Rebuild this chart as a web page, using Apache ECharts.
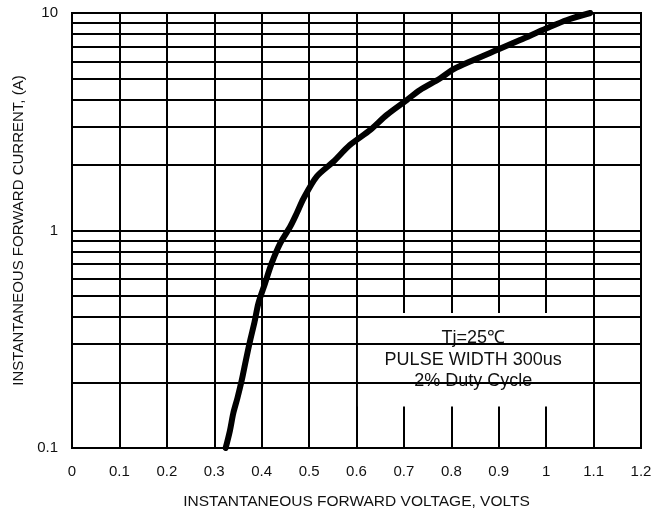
<!DOCTYPE html>
<html>
<head>
<meta charset="utf-8">
<script src="https://cdn.jsdelivr.net/npm/echarts@6/dist/echarts.min.js"></script>
<style>
html,body{margin:0;padding:0;background:#fff;}
#chart{width:669px;height:515px;}
</style>
</head>
<body>
<div id="chart"></div>
<script>
// Forward voltage (V) vs instantaneous forward current (A)
const voltage = [0.324,0.333,0.340,0.349,0.358,0.367,0.376,0.385,0.393,0.407,0.421,0.439,0.460,0.474,0.488,0.516,0.551,0.586,0.629,0.664,0.706,0.734,0.776,0.804,0.847,0.896,0.945,1.001,1.044,1.093];
const current = [0.100,0.120,0.144,0.170,0.205,0.255,0.314,0.380,0.462,0.571,0.706,0.873,1.04,1.20,1.40,1.77,2.07,2.47,2.90,3.40,3.98,4.43,5.00,5.50,6.08,6.76,7.51,8.50,9.29,10.0];
// minor horizontal grid values of the log axis
const minorGrid = [0.2,0.3,0.4,0.5,0.6,0.7,0.8,0.9,2,3,4,5,6,7,8,9];
// annotation box corners in data units [V, A]
const noteBoxTopLeft = [0.603, 0.418];
const noteBoxBottomRight = [1.089, 0.155];
const noteLines = ['Tj=25\u2103', 'PULSE WIDTH 300us', '2% Duty Cycle'];
const xTitle = 'INSTANTANEOUS FORWARD VOLTAGE, VOLTS';
const yTitle = 'INSTANTANEOUS FORWARD CURRENT, (A)';

const FONT = '"Liberation Sans", Arial, sans-serif';
const chart = echarts.init(document.getElementById('chart'), null, {renderer:'canvas'});
const curveData = voltage.map((v,i)=>[v,current[i]]);

chart.setOption({
  animation:false,
  backgroundColor:'#fff',
  grid:{left:72,right:28,top:13,bottom:67,show:true,borderColor:'#000',borderWidth:2,backgroundColor:'transparent'},
  xAxis:{
    type:'value',min:0,max:1.2,interval:0.1,
    name:xTitle,nameLocation:'middle',nameGap:46,
    nameTextStyle:{fontFamily:FONT,fontSize:15.5,color:'#111'},
    axisLine:{show:false},axisTick:{show:false},
    axisLabel:{fontFamily:FONT,fontSize:15,color:'#111',margin:16,formatter:v=>String(+(+v).toFixed(1))},
    splitLine:{show:true,lineStyle:{color:'#000',width:2}}
  },
  yAxis:{
    type:'log',logBase:10,min:0.1,max:10,
    name:yTitle,nameLocation:'middle',nameGap:44,
    nameTextStyle:{fontFamily:FONT,fontSize:15,color:'#111'},
    axisLine:{show:false},axisTick:{show:false},
    axisLabel:{fontFamily:FONT,fontSize:15,color:'#111',margin:14,formatter:v=>String(+(+v).toPrecision(3))},
    splitLine:{show:true,lineStyle:{color:'#000',width:2}}
  },
  series:[
    {
      name:'minorGrid',type:'line',data:[],z:1,silent:true,
      markLine:{silent:true,symbol:['none','none'],animation:false,
        label:{show:false},
        lineStyle:{color:'#000',width:2,type:'solid'},
        emphasis:{disabled:true},
        data:minorGrid.map(v=>({yAxis:v}))}
    },
    {
      name:'note',type:'line',data:[],z:2,silent:true,
      markArea:{silent:true,animation:false,
        itemStyle:{color:'#fff',opacity:1,borderWidth:0},
        emphasis:{disabled:true},
        label:{show:true,position:'inside',fontFamily:FONT,fontSize:18,lineHeight:21.5,color:'#111',align:'center',verticalAlign:'middle',
          formatter:noteLines.join('\n')},
        data:[[{coord:noteBoxTopLeft},{coord:noteBoxBottomRight}]]}
    },
    {
      name:'IF',type:'line',data:curveData,z:3,
      showSymbol:false,symbol:'none',smooth:0.3,
      lineStyle:{color:'#000',width:6,cap:'round',join:'round'},
      silent:true
    }
  ]
});
</script>
</body>
</html>
